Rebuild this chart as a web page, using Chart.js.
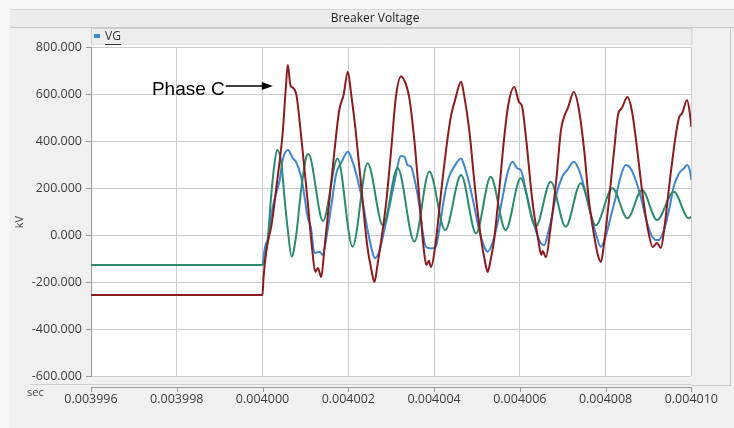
<!DOCTYPE html>
<html>
<head>
<meta charset="utf-8">
<script src="https://cdn.jsdelivr.net/npm/chart.js@4.4.1/dist/chart.umd.min.js"></script>
<style>
  html, body { margin: 0; padding: 0; background: #f0f0f0; }
  #box { width: 734px; height: 428px; }
</style>
</head>
<body>
<div id="box"><canvas id="chart" width="734" height="428"></canvas></div>
<script>
// time in microseconds, voltage in kV
const xTickValues = [3996, 3998, 4000, 4002, 4004, 4006, 4008, 4010];
const yTickValues = [-600, -400, -200, 0, 200, 400, 600, 800];

const phaseCTime = [3996, 4000.00, 4000.02, 4000.09, 4000.21, 4000.33, 4000.47, 4000.54, 4000.59, 4000.65, 4000.72,
  4000.79, 4000.91, 4001.05, 4001.16, 4001.23, 4001.29, 4001.37, 4001.44, 4001.56, 4001.68, 4001.79, 4001.89,
  4001.99, 4002.07, 4002.17, 4002.31, 4002.44, 4002.54, 4002.61, 4002.68, 4002.77, 4002.89, 4003.00, 4003.11,
  4003.23, 4003.35, 4003.42, 4003.54, 4003.66, 4003.75, 4003.82, 4003.88, 4003.93, 4004.03, 4004.17, 4004.31,
  4004.40, 4004.49, 4004.63, 4004.70, 4004.82, 4004.96, 4005.10, 4005.19, 4005.25, 4005.31, 4005.40, 4005.52,
  4005.63, 4005.73, 4005.87, 4005.98, 4006.05, 4006.15, 4006.29, 4006.43, 4006.50, 4006.53, 4006.61, 4006.71,
  4006.85, 4006.96, 4007.05, 4007.12, 4007.26, 4007.38, 4007.50, 4007.61, 4007.75, 4007.82, 4007.89, 4007.96,
  4008.08, 4008.20, 4008.29, 4008.38, 4008.51, 4008.61, 4008.71, 4008.85, 4008.99, 4009.10, 4009.20, 4009.29,
  4009.38, 4009.50, 4009.62, 4009.71, 4009.79, 4009.90, 4009.97, 4010.00];
const phaseCKv = [-255, -255, -191, -64, 43, 213, 434, 617, 723, 638, 625,
  596, 404, 149, -64, -157, -140, -179, -64, 149, 362, 532, 596,
  695, 596, 447, 191, -43, -149, -200, -128, -21, 149, 362, 587,
  674, 638, 587, 404, 149, -43, -128, -110, -136, -43, 191, 404,
  511, 574, 652, 596, 447, 191, -21, -115, -157, -115, -21, 191,
  404, 553, 630, 566, 549, 404, 149, -21, -85, -68, -94, 21,
  234, 447, 511, 540, 608, 532, 362, 149, -21, -85, -115, -43,
  149, 362, 511, 540, 587, 532, 404, 191, 21, -51, -34, -55,
  43, 234, 404, 498, 519, 574, 511, 460];

const phaseATime = [3996, 4000.00, 4000.03, 4000.07, 4000.12, 4000.24, 4000.32, 4000.40, 4000.47, 4000.59, 4000.71,
  4000.78, 4000.90, 4000.98, 4001.05, 4001.13, 4001.21, 4001.33, 4001.40, 4001.48, 4001.60, 4001.72, 4001.83,
  4001.99, 4002.10, 4002.22, 4002.34, 4002.45, 4002.57, 4002.62, 4002.72, 4002.84, 4002.96, 4003.07, 4003.23,
  4003.31, 4003.38, 4003.46, 4003.58, 4003.66, 4003.73, 4003.81, 4003.93, 4004.04, 4004.12, 4004.24, 4004.35,
  4004.47, 4004.63, 4004.70, 4004.82, 4004.94, 4005.05, 4005.17, 4005.25, 4005.36, 4005.48, 4005.60, 4005.71,
  4005.83, 4005.94, 4006.02, 4006.14, 4006.26, 4006.37, 4006.49, 4006.57, 4006.66, 4006.75, 4006.84, 4006.99,
  4007.11, 4007.26, 4007.38, 4007.54, 4007.65, 4007.77, 4007.89, 4008.00, 4008.12, 4008.24, 4008.35, 4008.47,
  4008.58, 4008.70, 4008.82, 4008.93, 4009.05, 4009.17, 4009.24, 4009.36, 4009.48, 4009.59, 4009.71, 4009.83,
  4009.90, 4009.98, 4010.00];
const phaseAKv = [-128, -128, -85, -43, -21, 120, 179, 234, 319, 362, 326,
  312, 248, 163, 78, 30, -77, -71, -85, -21, 120, 262, 305,
  354, 312, 234, 136, 21, -78, -99, -71, 21, 120, 220, 336,
  333, 298, 291, 206, 120, 21, -50, -57, -50, 21, 163, 248,
  291, 326, 298, 220, 120, 21, -50, -71, -35, 50, 163, 262,
  312, 284, 277, 191, 92, 21, -35, -43, 10, 80, 163, 248,
  277, 312, 277, 177, 92, 7, -50, -7, 78, 163, 248, 298,
  284, 234, 163, 78, 7, -21, -21, 21, 106, 206, 262, 284,
  298, 262, 234];

const phaseBTime = [3996, 4000.00, 4000.05, 4000.12, 4000.20, 4000.28, 4000.34, 4000.44, 4000.51, 4000.59, 4000.68,
  4000.78, 4000.90, 4001.02, 4001.07, 4001.41, 4001.75, 4002.10, 4002.45, 4002.81, 4003.15, 4003.54, 4003.89,
  4004.26, 4004.63, 4004.98, 4005.32, 4005.67, 4006.02, 4006.37, 4006.72, 4007.07, 4007.42, 4007.77, 4008.16,
  4008.51, 4008.85, 4009.20, 4009.59, 4009.94, 4010.00];
const phaseBKv = [-128, -128, -106, -21, 163, 305, 362, 305, 163, 21, -92,
  -7, 191, 333, 345, 60, 326, -50, 305, 40, 285, -28, 270,
  21, 255, 7, 248, 21, 241, 35, 227, 35, 220, 42, 199,
  71, 191, 64, 184, 71, 78];

const seriesNames = ['VG A', 'VG B', 'VG C'];
const seriesColors = ['#3c86d3', '#2b8b6f', '#8c1a1e'];
const legendText = 'VG';
const titleText = 'Breaker Voltage';
const phaseCNote = { text: 'Phase C', textEnd: 3999.12, tip: 4000.24, level: 634 };

function points(ts, vs) {
  return ts.map((t, i) => ({ x: t, y: vs[i] }));
}

function hline(ctx, x1, x2, y, color) {
  ctx.strokeStyle = color;
  ctx.beginPath(); ctx.moveTo(x1, y); ctx.lineTo(x2, y); ctx.stroke();
}
function vline(ctx, x, y1, y2, color) {
  ctx.strokeStyle = color;
  ctx.beginPath(); ctx.moveTo(x, y1); ctx.lineTo(x, y2); ctx.stroke();
}

const chrome = {
  id: 'chrome',
  beforeDraw(chart) {
    const { ctx, width, height } = chart;
    const a = chart.chartArea;
    ctx.save();
    ctx.lineWidth = 1;
    ctx.fillStyle = '#f8f8f8';
    ctx.fillRect(0, 0, width, height);
    ctx.fillStyle = '#f0f0f0';
    ctx.fillRect(10, 9, width - 10, height - 9);
    // title strip
    ctx.fillStyle = '#ececec';
    ctx.fillRect(10, 10, width - 10, 17);
    hline(ctx, 10, width, 9.5, '#d6d6d6');
    hline(ctx, 10, width, 27.5, '#c9c9c9');
    ctx.fillStyle = '#222';
    ctx.font = '12px "Open Sans"';
    ctx.textAlign = 'center';
    ctx.textBaseline = 'middle';
    ctx.fillText(titleText, 375, 18.5);
    // legend strip
    ctx.fillStyle = '#eeeeee';
    ctx.fillRect(a.left, 29, a.right - a.left, 16);
    ctx.strokeStyle = '#cfcfcf';
    ctx.strokeRect(a.left + 0.5, 28.5, a.right - a.left, 16.5);
    ctx.fillStyle = seriesColors[0];
    ctx.fillRect(94, 34, 6, 4);
    ctx.fillStyle = '#333';
    ctx.textAlign = 'left';
    ctx.font = '12px "Open Sans"';
    ctx.fillText(legendText, 105, 36.5);
    const w = ctx.measureText(legendText).width;
    hline(ctx, 105, 105 + w, 44.5, '#333');
    // right panel
    vline(ctx, 730.5, 28, 386, '#c8c8c8');
    hline(ctx, a.right, 730, 385.5, '#c8c8c8');
    // plot background
    ctx.fillStyle = '#ffffff';
    ctx.fillRect(a.left, 45, a.right - a.left, a.bottom - 45);
    ctx.restore();
  },
  afterDraw(chart) {
    const { ctx } = chart;
    const a = chart.chartArea;
    const xs = chart.scales.x, ys = chart.scales.y;
    ctx.save();
    ctx.lineWidth = 1;
    // separate time axis under the plot
    hline(ctx, 30, a.right, 384.5, '#cfcfcf');
    hline(ctx, a.left, a.right, 387.5, '#9a9a9a');
    xTickValues.forEach(v => {
      const px = Math.round(xs.getPixelForValue(v)) + 0.5;
      vline(ctx, px, 387, 392, '#9a9a9a');
    });
    ctx.fillStyle = '#444';
    ctx.font = '11px "Open Sans"';
    ctx.textAlign = 'left';
    ctx.textBaseline = 'middle';
    ctx.fillText('sec', 27, 393);
    ctx.save();
    ctx.translate(20, 222);
    ctx.rotate(-Math.PI / 2);
    ctx.textAlign = 'center';
    ctx.font = '11px "Open Sans"';
    ctx.fillText('kV', 0, 0);
    ctx.restore();
    // Phase C note
    const y = ys.getPixelForValue(phaseCNote.level);
    const xEnd = xs.getPixelForValue(phaseCNote.textEnd);
    const xTip = xs.getPixelForValue(phaseCNote.tip);
    ctx.fillStyle = '#000';
    ctx.font = '19px "Liberation Sans"';
    ctx.textAlign = 'right';
    ctx.textBaseline = 'alphabetic';
    ctx.fillText(phaseCNote.text, xEnd, y + 9);
    ctx.strokeStyle = '#000';
    ctx.lineWidth = 1.5;
    ctx.beginPath(); ctx.moveTo(xEnd + 1, y); ctx.lineTo(xTip - 9, y); ctx.stroke();
    ctx.beginPath();
    ctx.moveTo(xTip, y); ctx.lineTo(xTip - 11, y - 4); ctx.lineTo(xTip - 11, y + 4); ctx.closePath();
    ctx.fill();
    ctx.restore();
  }
};

Chart.defaults.font.family = '"Open Sans"';

new Chart(document.getElementById('chart'), {
  type: 'line',
  data: {
    datasets: [
      { label: seriesNames[0], data: points(phaseATime, phaseAKv), borderColor: seriesColors[0], order: 2 },
      { label: seriesNames[1], data: points(phaseBTime, phaseBKv), borderColor: seriesColors[1], order: 1 },
      { label: seriesNames[2], data: points(phaseCTime, phaseCKv), borderColor: seriesColors[2], order: 0 }
    ]
  },
  options: {
    responsive: false,
    animation: false,
    parsing: false,
    layout: { padding: { top: 47, right: 42, left: 0, bottom: 0 } },
    elements: {
      line: { borderWidth: 2, tension: 0.4, cubicInterpolationMode: 'monotone', fill: false },
      point: { radius: 0 }
    },
    plugins: {
      legend: { display: false },
      title: { display: false },
      tooltip: { enabled: false }
    },
    scales: {
      x: {
        type: 'linear',
        min: 3996, max: 4010,
        afterBuildTicks: s => { s.ticks = xTickValues.map(v => ({ value: v })); },
        afterFit: s => { s.height = 52; },
        grid: { color: '#cccccc', drawTicks: false },
        border: { display: false },
        ticks: {
          padding: 16, maxRotation: 0, autoSkip: false,
          color: '#3c3c3c', font: { size: 12.5 },
          callback: v => (v / 1e6).toFixed(6)
        }
      },
      y: {
        type: 'linear',
        min: -600, max: 800,
        afterBuildTicks: s => { s.ticks = yTickValues.map(v => ({ value: v })); },
        afterFit: s => { s.width = 91; },
        grid: { color: '#cccccc', tickLength: 5, tickColor: '#9a9a9a' },
        border: { display: true, color: '#9a9a9a' },
        ticks: {
          padding: 4, color: '#3c3c3c', font: { size: 12.5 },
          callback: v => v.toFixed(3)
        }
      }
    }
  },
  plugins: [chrome]
});
</script>
</body>
</html>
